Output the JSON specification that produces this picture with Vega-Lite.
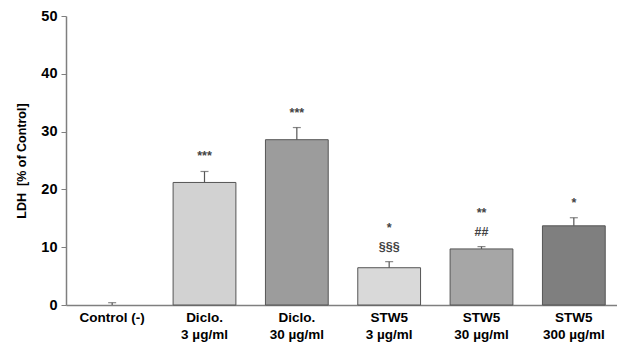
{
  "$schema": "https://vega.github.io/schema/vega-lite/v6.json",
  "autosize": "none",
  "width": 554,
  "height": 289,
  "padding": {"left": 66, "top": 16, "right": 0, "bottom": 39},
  "background": "white",
  "config": {
    "view": {"stroke": null},
    "font": "Liberation Sans"
  },
  "data": {
    "values": [
      {"group": "Control (-)", "value": 0, "upper": 0.4, "near": "", "far": ""},
      {"group": "Diclo.|3 µg/ml", "value": 21.2, "upper": 23.1, "near": "***", "far": ""},
      {"group": "Diclo.|30 µg/ml", "value": 28.6, "upper": 30.7, "near": "***", "far": ""},
      {"group": "STW5|3 µg/ml", "value": 6.45, "upper": 7.5, "near": "§§§", "far": "*"},
      {"group": "STW5|30 µg/ml", "value": 9.7, "upper": 10.1, "near": "##", "far": "**"},
      {"group": "STW5|300 µg/ml", "value": 13.7, "upper": 15.1, "near": "*", "far": ""}
    ]
  },
  "encoding": {
    "x": {
      "field": "group",
      "type": "nominal",
      "sort": ["Control (-)", "Diclo.|3 µg/ml", "Diclo.|30 µg/ml", "STW5|3 µg/ml", "STW5|30 µg/ml", "STW5|300 µg/ml"],
      "scale": {"paddingInner": 0.32, "paddingOuter": 0.16},
      "axis": {
        "title": null,
        "labelAngle": 0,
        "labelExpr": "split(datum.label, '|')",
        "labelFont": "Liberation Sans",
        "labelFontWeight": "bold",
        "labelFontSize": 13.5,
        "labelColor": "#000000",
        "labelLineHeight": 17,
        "labelPadding": 5,
        "ticks": false,
        "domainColor": "#7f7f7f",
        "domainWidth": 1.5
      }
    }
  },
  "layer": [
    {
      "transform": [{"filter": "datum.value > 0"}],
      "mark": {"type": "bar", "stroke": "#555555", "strokeWidth": 1},
      "encoding": {
        "y": {
          "field": "value",
          "type": "quantitative",
          "scale": {"domain": [0, 50]},
          "axis": {
            "title": "LDH\u00a0\u00a0[% of Control]",
            "titleFont": "Liberation Sans",
            "titleFontWeight": "bold",
            "titleFontSize": 12.5,
            "titleColor": "#000000",
            "titlePadding": 12,
            "values": [0, 10, 20, 30, 40, 50],
            "grid": false,
            "labelFont": "Liberation Sans",
            "labelFontWeight": "bold",
            "labelFontSize": 14.5,
            "labelColor": "#000000",
            "labelPadding": 4,
            "tickColor": "#7f7f7f",
            "tickSize": 5,
            "domainColor": "#7f7f7f",
            "domainWidth": 1.5
          }
        },
        "fill": {
          "field": "group",
          "type": "nominal",
          "legend": null,
          "scale": {
            "domain": ["Control (-)", "Diclo.|3 µg/ml", "Diclo.|30 µg/ml", "STW5|3 µg/ml", "STW5|30 µg/ml", "STW5|300 µg/ml"],
            "range": ["#ffffff", "#d2d2d2", "#9c9c9c", "#d9d9d9", "#a6a6a6", "#7f7f7f"]
          }
        }
      }
    },
    {
      "mark": {"type": "rule", "color": "#555555", "strokeWidth": 1.2},
      "encoding": {
        "y": {"field": "value", "type": "quantitative"},
        "y2": {"field": "upper"}
      }
    },
    {
      "mark": {"type": "tick", "color": "#555555", "size": 8, "thickness": 1.2},
      "encoding": {
        "y": {"field": "upper", "type": "quantitative"}
      }
    },
    {
      "mark": {
        "type": "text",
        "baseline": "bottom",
        "dy": -8,
        "fontSize": 12.5,
        "fontWeight": "bold",
        "font": "Liberation Sans",
        "color": "#444444"
      },
      "encoding": {
        "y": {"field": "upper", "type": "quantitative"},
        "text": {"field": "near", "type": "nominal"}
      }
    },
    {
      "mark": {
        "type": "text",
        "baseline": "bottom",
        "dy": -27,
        "fontSize": 12.5,
        "fontWeight": "bold",
        "font": "Liberation Sans",
        "color": "#444444"
      },
      "encoding": {
        "y": {"field": "upper", "type": "quantitative"},
        "text": {"field": "far", "type": "nominal"}
      }
    }
  ]
}
